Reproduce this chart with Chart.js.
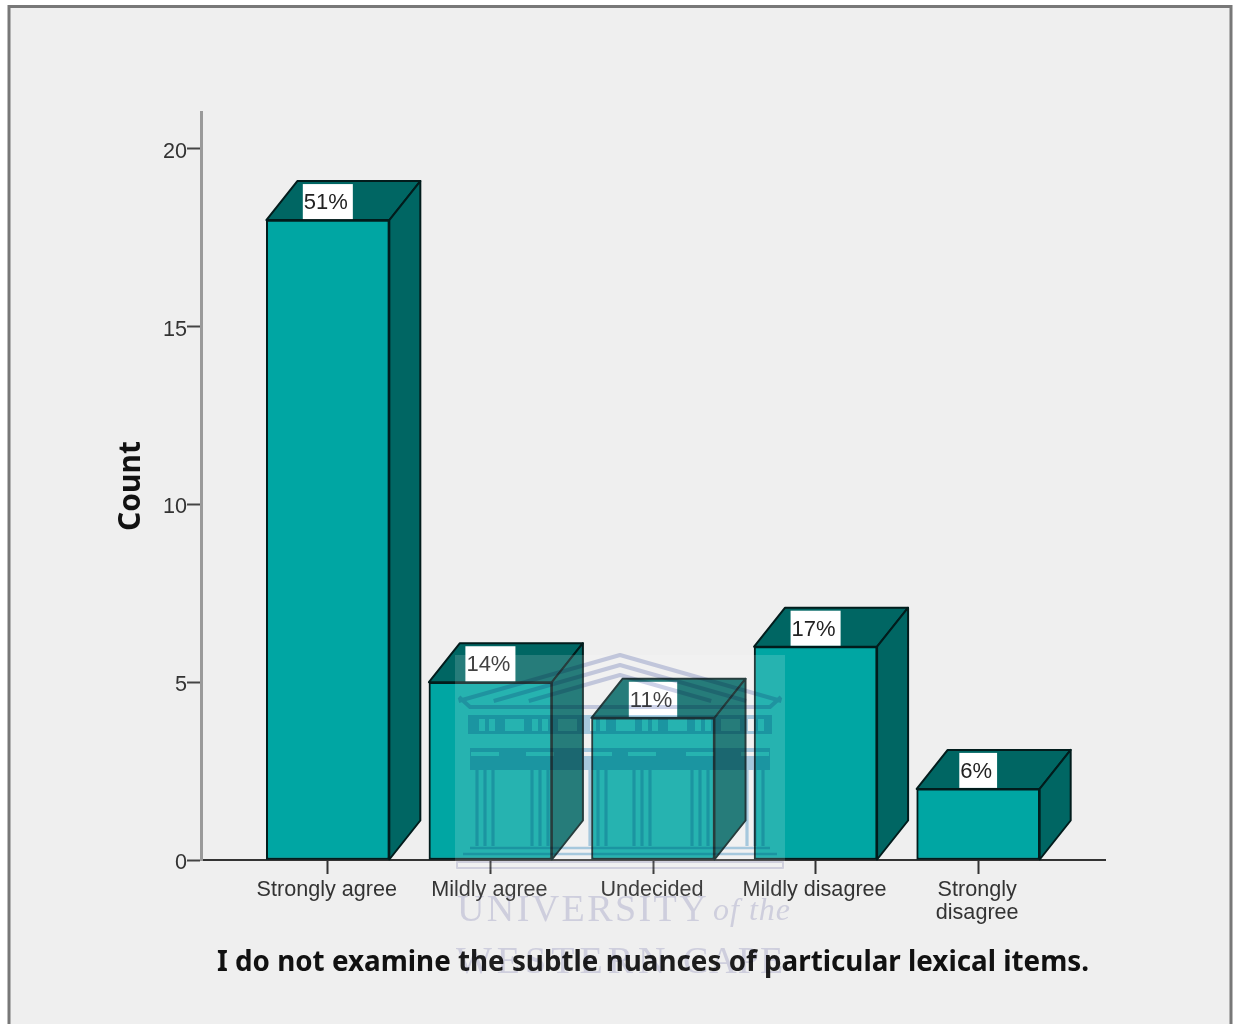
<!DOCTYPE html>
<html>
<head>
<meta charset="utf-8">
<style>
  html, body { margin: 0; padding: 0; background: #fff; }
  #wrap { width: 1233px; height: 1024px; overflow: hidden; }
  canvas { display: block; }
</style>
<script src="https://cdn.jsdelivr.net/npm/chart.js@4"></script>
</head>
<body>
<div id="wrap"><canvas id="chart" width="1233" height="1024"></canvas></div>
<script>
// Survey responses for one questionnaire item
const categories = ['Strongly agree', 'Mildly agree', 'Undecided', 'Mildly disagree', 'Strongly disagree'];
const counts = [18, 5, 4, 6, 2];
const percentLabels = ['51%', '14%', '11%', '17%', '6%'];
const yTicks = [0, 5, 10, 15, 20];
const xAxisTitle = 'I do not examine the subtle nuances of particular lexical items.';
const yAxisTitle = 'Count';

const FRONT = '#00a6a3';
const SHADE = '#006663';
const EDGE = '#021c1c';
const DEPTH_X = 31;
const DEPTH_Y = 39;
const TICK_FONT = { family: '"Liberation Sans", Arial, sans-serif', size: 21.6 };

// Panel background and its grey frame, open past the bottom of the page
const panel = {
  id: 'panel',
  beforeDraw(chart) {
    const c = chart.ctx;
    c.save();
    c.fillStyle = '#ffffff';
    c.fillRect(0, 0, chart.width, chart.height);
    c.fillStyle = '#efefef';
    c.strokeStyle = '#787878';
    c.lineWidth = 3;
    c.beginPath();
    c.rect(9, 6.5, 1222, 1100);
    c.fill();
    c.stroke();
    c.restore();
  }
};

function polygon(c, pts) {
  c.beginPath();
  pts.forEach((p, i) => (i ? c.lineTo(p[0], p[1]) : c.moveTo(p[0], p[1])));
  c.closePath();
  c.fill();
  c.stroke();
}

// Top and side faces extruded from each bar, plus the percentage tags
const extrude = {
  id: 'extrude',
  beforeDatasetsDraw(chart) {
    const c = chart.ctx;
    c.save();
    c.fillStyle = SHADE;
    c.strokeStyle = EDGE;
    c.lineWidth = 2;
    c.lineJoin = 'round';
    chart.getDatasetMeta(0).data.forEach(el => {
      const l = el.x - el.width / 2, r = el.x + el.width / 2;
      polygon(c, [[l, el.y], [l + DEPTH_X, el.y - DEPTH_Y], [r + DEPTH_X, el.y - DEPTH_Y], [r, el.y]]);
      polygon(c, [[r, el.y], [r + DEPTH_X, el.y - DEPTH_Y], [r + DEPTH_X, el.base - DEPTH_Y], [r, el.base]]);
    });
    c.restore();
  },
  afterDatasetsDraw(chart) {
    const c = chart.ctx;
    c.save();
    c.font = '22px ' + TICK_FONT.family;
    c.textAlign = 'center';
    c.textBaseline = 'middle';
    chart.getDatasetMeta(0).data.forEach((el, i) => {
      const w = c.measureText(percentLabels[i]).width + 6;
      c.fillStyle = '#ffffff';
      c.fillRect(el.x - w / 2, el.y - 36, w, 35);
      c.fillStyle = '#222222';
      c.fillText(percentLabels[i], el.x - 2, el.y - 17);
    });
    c.restore();
  }
};

// Faint institutional crest laid over the whole figure
const crest = {
  id: 'crest',
  afterDraw(chart) {
    const c = chart.ctx;
    const mid = 620;
    c.save();

    c.fillStyle = 'rgba(255,255,255,0.15)';
    c.fillRect(455, 655, 330, 215);
    c.fillStyle = 'rgba(255,255,255,0.05)';
    c.fillRect(455, 870, 330, 118);

    c.globalCompositeOperation = 'multiply';
    c.strokeStyle = '#cdd2e8';

    // pediment: nested chevrons above a cornice, stroked as one path
    c.lineJoin = 'round';
    c.lineWidth = 4;
    c.beginPath();
    [0, 10, 20].forEach(d => {
      const run = (701 - 655 - d) / 0.285;
      c.moveTo(mid - run, 701);
      c.lineTo(mid, 655 + d);
      c.lineTo(mid + run, 701);
    });
    c.moveTo(459, 697);
    c.lineTo(470, 707);
    c.lineTo(770, 707);
    c.lineTo(781, 697);
    c.stroke();

    c.fillStyle = '#b0d4ea';
    c.strokeStyle = '#b0d4ea';

    // frieze with its lighter panels
    c.beginPath();
    c.rect(468, 715, 304, 19);
    [[479, 6], [489, 6], [505, 19], [532, 6], [542, 6], [558, 19], [590, 6], [600, 6],
     [616, 19], [642, 6], [652, 6], [668, 19], [695, 6], [705, 6], [721, 19], [748, 6], [758, 6]]
      .forEach(([x, w]) => c.rect(x, 719, w, 12));
    c.fill('evenodd');

    // architrave band with pale capitals cut out of it
    const columns = [485, 540, 598, 642, 700, 755];
    c.beginPath();
    c.rect(470, 748, 300, 22);
    columns.forEach(x => c.rect(x - 14, 752, 28, 4));
    c.fill('evenodd');

    // column shafts, in groups of three lines
    c.lineWidth = 3.2;
    c.beginPath();
    columns.forEach(x => {
      [-8, 0, 8].forEach(dx => {
        c.moveTo(x + dx, 770);
        c.lineTo(x + dx, 846);
      });
    });
    c.stroke();

    // steps and plinth
    c.lineWidth = 2.5;
    c.beginPath();
    [[470, 848, 300], [463, 854, 314]].forEach(([x, y, w]) => {
      c.moveTo(x, y);
      c.lineTo(x + w, y);
    });
    c.stroke();
    c.lineWidth = 2;
    c.strokeStyle = '#dcdcea';
    c.strokeRect(457, 862, 326, 6);

    // wordmark
    c.fillStyle = '#dcdcec';
    c.textBaseline = 'alphabetic';
    c.textAlign = 'left';
    c.font = '38px "Liberation Serif", serif';
    c.letterSpacing = '2.4px';
    c.fillText('UNIVERSITY', 457, 921);
    c.font = 'italic 32px "Liberation Serif", serif';
    c.letterSpacing = '1px';
    c.fillText('of the', 713, 920);
    c.font = '38px "Liberation Serif", serif';
    c.letterSpacing = '5px';
    c.fillText('WESTERN', 456, 973);
    c.letterSpacing = '1px';
    c.fillText('CAPE', 683, 973);
    c.restore();
  }
};

new Chart(document.getElementById('chart'), {
  type: 'bar',
  data: {
    labels: categories,
    datasets: [{
      data: counts.map((y, x) => ({ x, y })),
      backgroundColor: FRONT,
      borderColor: EDGE,
      borderWidth: 2,
      borderSkipped: false,
      barThickness: 123,
      clip: false
    }]
  },
  plugins: [panel, extrude, crest],
  options: {
    responsive: false,
    animation: false,
    events: [],
    layout: { padding: { left: 0, top: 112, right: 128, bottom: 0 } },
    plugins: { legend: { display: false }, tooltip: { enabled: false }, title: { display: false } },
    scales: {
      x: {
        type: 'linear',
        offset: false,
        min: -0.78,
        max: 4.78,
        afterBuildTicks(scale) {
          scale.ticks = categories.map((_, value) => ({ value }));
        },
        afterFit(scale) { scale.height = 164; },
        grid: { offset: false, drawOnChartArea: false, drawTicks: true, tickLength: 14, tickWidth: 2, color: '#333333' },
        border: { display: true, color: '#333333', width: 2 },
        ticks: {
          autoSkip: false,
          maxRotation: 0,
          minRotation: 0,
          includeBounds: false,
          padding: 4,
          labelOffset: -1,
          color: '#333333',
          font: { ...TICK_FONT, lineHeight: 1.07 },
          callback(value) {
            const name = categories[value];
            return name.length > 15 ? name.split(' ') : name;
          }
        },
        title: {
          display: true,
          text: xAxisTitle,
          color: '#111111',
          align: 'center',
          font: { family: '"Noto Sans", sans-serif', size: 27.8, weight: 'bold', lineHeight: 1.2 },
          padding: { top: 0, bottom: 44 }
        }
      },
      y: {
        type: 'linear',
        min: 0,
        max: 21.04,
        afterBuildTicks(scale) {
          scale.ticks = yTicks.map(value => ({ value }));
        },
        afterFit(scale) { scale.width = 201; },
        grid: { drawOnChartArea: false, drawTicks: true, tickLength: 14, tickWidth: 2, color: '#444444' },
        border: { display: true, color: '#9a9a9a', width: 3 },
        ticks: {
          includeBounds: false,
          padding: 0,
          labelOffset: 3,
          color: '#333333',
          font: TICK_FONT
        },
        title: {
          display: true,
          text: yAxisTitle,
          color: '#111111',
          font: { family: '"Noto Sans", sans-serif', size: 30, weight: 'bold', lineHeight: 1.2 },
          padding: { top: 113, bottom: 0 }
        }
      }
    }
  }
});
</script>
</body>
</html>
